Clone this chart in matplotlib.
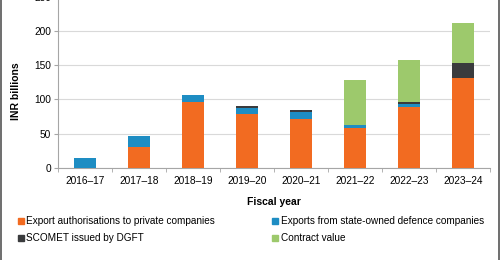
import matplotlib.pyplot as plt
from matplotlib.lines import Line2D
from matplotlib.patches import Patch
import numpy as np

plt.rcParams["font.family"] = ["Liberation Sans", "DejaVu Sans"]

years = ["2016–17", "2017–18", "2018–19", "2019–20", "2020–21", "2021–22", "2022–23", "2023–24"]
private = [0, 31, 97, 79, 72, 59, 89, 131]
state_owned = [14, 15, 9, 9, 10, 4, 5, 1]
scomet = [0, 0, 0, 2, 2, 0, 3, 21]
contract = [0, 0, 0, 0, 0, 65, 61, 58]

labels = ["Export authorisations to private companies",
          "Exports from state-owned defence companies",
          "SCOMET issued by DGFT",
          "Contract value"]
colors = ["#F26B21", "#1E8DC3", "#3A3B3D", "#9DC96C"]

fig = plt.figure(figsize=(5, 2.6), dpi=100)
ax = fig.add_axes([0.116, 0.354, 0.864, 0.6585])

x = np.arange(len(years))
bottom = np.zeros(len(years))
for vals, c in zip([private, state_owned, scomet, contract], colors):
    ax.bar(x, vals, width=0.39, bottom=bottom, color=c, zorder=3)
    bottom += np.array(vals)

ax.set_ylim(0, 250)
ax.set_xlim(-0.5, len(years) - 0.5)
ax.set_yticks([0, 50, 100, 150, 200, 250])
ax.yaxis.grid(True, color="#D9D9D9", linewidth=0.8, zorder=0)
ax.set_xticks(x)
ax.set_xticklabels(years)
ax.set_xticks(np.arange(-0.5, len(years)), minor=True)
ax.tick_params(axis="x", which="major", length=0, labelsize=7.3, pad=6)
ax.tick_params(axis="x", which="minor", length=3, color="#A6A6A6")
ax.tick_params(axis="y", length=3, color="#A6A6A6", labelsize=7.3, pad=2)
for s in ["top", "right"]:
    ax.spines[s].set_visible(False)
for s in ["left", "bottom"]:
    ax.spines[s].set_color("#A6A6A6")

ax.set_xlabel("Fiscal year", fontsize=7.5, fontweight="bold", labelpad=8)
ax.set_ylabel("INR billions", fontsize=7.5, fontweight="bold")
ax.yaxis.set_label_coords(-0.085, 0.451)

handles = [Patch(color=c) for c in colors]
order = [0, 2, 1, 3]
fig.legend([handles[i] for i in order], [labels[i] for i in order],
           ncol=2, loc="upper left", bbox_to_anchor=(0.025, 0.187),
           frameon=False, fontsize=7.2, handlelength=0.6, handleheight=0.6,
           handletextpad=0.3, columnspacing=5.7, labelspacing=0.7, borderpad=0)

fig.add_artist(Line2D([0.002, 0.002], [0, 1], color="#555555", linewidth=1.2))
fig.add_artist(Line2D([0.997, 0.997], [0, 1], color="#555555", linewidth=1.2))

fig.savefig("out.png", dpi=100)
